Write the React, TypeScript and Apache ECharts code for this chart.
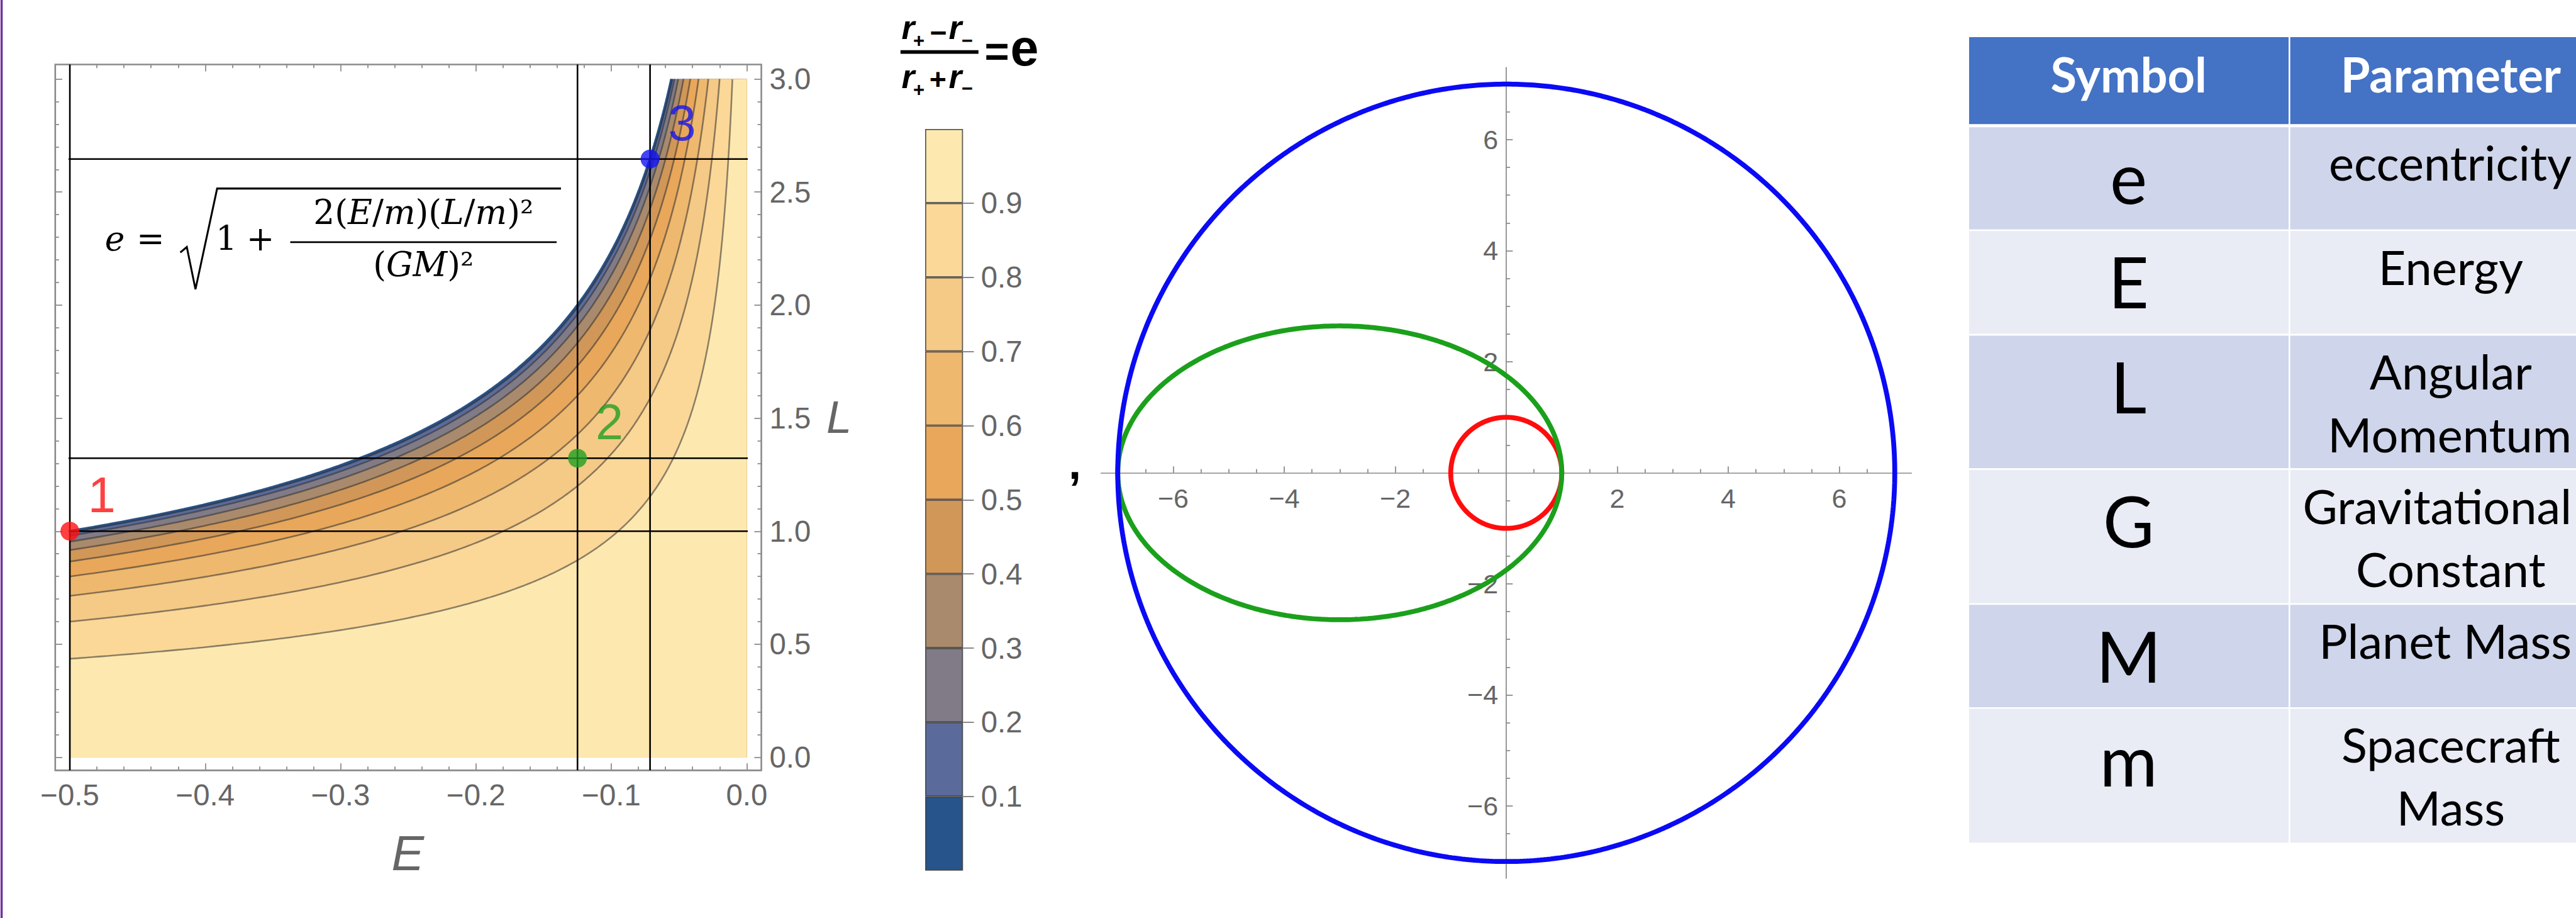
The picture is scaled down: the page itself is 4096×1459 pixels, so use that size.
import React, { useEffect, useRef } from 'react';
import * as echarts from 'echarts';

const S = 0.861;
const W = 4096;
const H = 1459;
const p = (v: number) => v * S;
const SANS = '"Liberation Sans", Arial, sans-serif';
const SERIF = '"DejaVu Serif", serif';
const LATO = 'Lato, "Open Sans", sans-serif';

// ---------- data: contour chart (E vs L) ----------
const energyTicks = [-0.5, -0.4, -0.3, -0.2, -0.1, 0.0];
const momentumTicks = [0, 0.5, 1.0, 1.5, 2.0, 2.5, 3.0];
const eccLevels = [0, 0.1, 0.2, 0.3, 0.4, 0.5, 0.6, 0.7, 0.8, 0.9];
const bandColors = ['#27548A', '#5A6B9B', '#807B86', '#A98A6D', '#D09758', '#E8A75A', '#EEB86F', '#F5C986', '#FBD898', '#FDE9B0'];
const colorbarTicks = [0.1, 0.2, 0.3, 0.4, 0.5, 0.6, 0.7, 0.8, 0.9];
const pointLabels = ['1', '2', '3'];
const pointE = [-0.5, -0.125, -0.0714];
const pointL = [1.0, 1.323, 2.646];
const pointColors = ['#FF1010', '#22A022', '#1414F0'];
const frameE = [-0.5108, 0.0108];
const frameL = [-0.0575, 3.064];

// ---------- data: orbits ----------
const orbitSemiMajor = [1, 4, 7];
const orbitEcc = [0, 0.75, 0];
const orbitColors = ['#FF0D0D', '#1BA01B', '#0A0AF5'];
const orbitRange = [-7.3, 7.3];
const orbitMajorTicks = [-6, -4, -2, 2, 4, 6];
const orbitMinorTicks = [-7, -6.5, -5.5, -5, -4.5, -3.5, -3, -2.5, -1.5, -1, -0.5, 0.5, 1, 1.5, 2.5, 3, 3.5, 4.5, 5, 5.5, 6.5, 7];

// ---------- data: table ----------
const tableHeader = ['Symbol', 'Parameter'];
const tableSymbols = ['e', 'E', 'L', 'G', 'M', 'm'];
const tableParams = [['eccentricity'], ['Energy'], ['Angular', 'Momentum'], ['Gravitational', 'Constant'], ['Planet Mass'], ['Spacecraft', 'Mass']];

// ---------- helpers ----------
const Lmax = momentumTicks[momentumTicks.length - 1];
const levelL = (e: number, E: number) => Math.sqrt((1 - e * e) / (-2 * E));
const crossE = (e: number) => -(1 - e * e) / (2 * Lmax * Lmax);
const E_SAMPLES: number[] = (() => {
  const a: number[] = [];
  const n = 600;
  for (let i = 0; i <= n; i++) a.push(energyTicks[0] * Math.pow(0.001, i / n));
  return a;
})();

function contourLine(e: number) {
  const ec = crossE(e);
  const pts = E_SAMPLES.filter((E) => E < ec).map((E) => [E, levelL(e, E)]);
  pts.push([ec, Lmax]);
  return pts;
}

function orbitPath(a: number, e: number) {
  const pts: number[][] = [];
  const n = 720;
  for (let i = 0; i <= n; i++) {
    const th = (i / n) * 2 * Math.PI;
    const r = (a * (1 - e * e)) / (1 + e * Math.cos(th));
    pts.push([r * Math.cos(th), r * Math.sin(th)]);
  }
  return pts;
}

const fmt1 = (v: number) => (Math.abs(v) < 1e-9 ? '0.0' : v.toFixed(1).replace('-', '\u2212'));
const fmtInt = (v: number) => String(Math.round(v)).replace('-', '\u2212');

function measureRef(text: string, size: number, family: string, weight = 'normal') {
  try {
    const ctx = document.createElement('canvas').getContext('2d');
    if (!ctx) return 0;
    ctx.font = `${weight} ${p(size)}px ${family}`;
    return ctx.measureText(text).width / S;
  } catch (e) {
    return 0;
  }
}

function label(x: number, baseline: number, text: string, size: number, o: any = {}) {
  const c = o.c ?? 0.3465;
  const style: any = {
    text,
    fontSize: p(size),
    fontFamily: o.family ?? SANS,
    fontStyle: o.italic ? 'italic' : 'normal',
    fontWeight: o.bold ? 'bold' : 'normal',
    fill: o.fill ?? '#000',
    textAlign: o.align ?? 'center',
    textVerticalAlign: 'middle',
  };
  if (o.rich) style.rich = o.rich;
  return { type: 'text', silent: true, z: o.z ?? 20, x: p(x), y: p(baseline - c * size), style };
}

function buildOption(): any {
  const tickStyle = { color: '#888', width: p(2) };
  const labelStyle = { fontSize: p(55), color: '#666', fontFamily: SANS };

  const series: any[] = [];

  // filled contour bands (each level paints from L=0 up to its curve)
  eccLevels.forEach((e, k) => {
    const pts = contourLine(e);
    pts.push([energyTicks[energyTicks.length - 1], Lmax]);
    series.push({
      type: 'line', xAxisIndex: 0, yAxisIndex: 0, data: pts, showSymbol: false, silent: true, z: 2,
      lineStyle: { width: 0, opacity: 0 },
      areaStyle: { color: bandColors[k], opacity: 1, origin: 'start' },
    });
  });
  // contour lines
  eccLevels.forEach((e, k) => {
    series.push({
      type: 'line', xAxisIndex: 0, yAxisIndex: 0, data: contourLine(e), showSymbol: false, silent: true, z: 3,
      lineStyle: k === 0 ? { color: '#2A5286', width: p(5) } : { color: 'rgba(45,45,45,0.55)', width: p(3) },
    });
  });
  // reference lines through the three points
  pointE.forEach((E, i) => {
    series.push({
      type: 'line', xAxisIndex: 0, yAxisIndex: 0, clip: false, showSymbol: false, silent: true, z: 4,
      data: [[E, frameL[0]], [E, frameL[1]]], lineStyle: { color: '#000', width: p(3) },
    });
    series.push({
      type: 'line', xAxisIndex: 0, yAxisIndex: 0, clip: false, showSymbol: false, silent: true, z: 4,
      data: [[frameE[0], pointL[i]], [frameE[1], pointL[i]]], lineStyle: { color: '#000', width: p(3) },
    });
  });
  // points
  pointE.forEach((E, i) => {
    series.push({
      type: 'scatter', xAxisIndex: 0, yAxisIndex: 0, clip: false, silent: true, z: 6,
      data: [[E, pointL[i]]], symbol: 'circle', symbolSize: p(35),
      itemStyle: { color: pointColors[i] },
      label: { show: true, formatter: pointLabels[i], position: 'inside', offset: [p(59), p(-67)], fontSize: p(92), color: pointColors[i], fontFamily: SANS },
    });
  });
  // colorbar bands
  eccLevels.forEach((e, k) => {
    const next = k + 1 < eccLevels.length ? eccLevels[k + 1] : 1;
    series.push({
      type: 'bar', xAxisIndex: 4, yAxisIndex: 4, stack: 'cb', barWidth: '100%', silent: true,
      data: [+(next - e).toFixed(3)],
      itemStyle: { color: bandColors[k], borderColor: 'rgba(60,60,60,0.85)', borderWidth: p(2) },
    });
  });
  // orbits (red, green, blue drawn in that order)
  orbitSemiMajor.forEach((a, i) => {
    series.push({
      type: 'line', xAxisIndex: 2, yAxisIndex: 2, data: orbitPath(a, orbitEcc[i]), showSymbol: false, silent: true, z: 3 + i,
      lineStyle: { color: orbitColors[i], width: p(9) },
    });
  });

  const oPx = 102.5;
  const oCx = 2781.7;
  const oCy = 872.8;
  const half = p(((orbitRange[1] - orbitRange[0]) / 2) * oPx);

  const xAxis: any[] = [
    {
      type: 'value', gridIndex: 0, position: 'bottom', offset: p(24), min: energyTicks[0], max: energyTicks[energyTicks.length - 1], interval: 0.1,
      axisLine: { show: false, onZero: false },
      axisTick: { show: true, inside: true, length: p(13), lineStyle: tickStyle },
      minorTick: { show: true, splitNumber: 5, length: p(7), lineStyle: tickStyle },
      axisLabel: { ...labelStyle, margin: p(18), formatter: fmt1 },
      splitLine: { show: false }, minorSplitLine: { show: false },
    },
    {
      type: 'value', gridIndex: 0, position: 'top', offset: p(27), min: energyTicks[0], max: energyTicks[energyTicks.length - 1], interval: 0.1,
      axisLine: { show: false, onZero: false },
      axisTick: { show: true, inside: true, length: p(13), lineStyle: tickStyle },
      minorTick: { show: true, splitNumber: 5, length: p(7), lineStyle: tickStyle },
      axisLabel: { show: false },
      splitLine: { show: false }, minorSplitLine: { show: false },
    },
    {
      type: 'value', gridIndex: 1, position: 'bottom', offset: -half, min: orbitRange[0], max: orbitRange[1],
      axisLine: { show: true, onZero: false, lineStyle: { color: '#888', width: p(2) } },
      axisTick: { show: true, inside: true, customValues: orbitMajorTicks, length: p(12), lineStyle: tickStyle },
      axisLabel: { fontSize: p(50), color: '#666', fontFamily: SANS, margin: p(22), customValues: orbitMajorTicks, formatter: fmtInt },
      splitLine: { show: false },
    },
    {
      type: 'value', gridIndex: 1, position: 'top', offset: -half, min: orbitRange[0], max: orbitRange[1],
      axisLine: { show: false, onZero: false },
      axisTick: { show: true, inside: false, customValues: orbitMinorTicks, length: p(7), lineStyle: tickStyle },
      axisLabel: { show: false },
      splitLine: { show: false },
    },
    { type: 'category', gridIndex: 2, data: ['e'], show: false, boundaryGap: true },
  ];

  const yAxis: any[] = [
    {
      type: 'value', gridIndex: 0, position: 'right', offset: p(27), min: momentumTicks[0], max: Lmax, interval: 0.5,
      axisLine: { show: false, onZero: false },
      axisTick: { show: true, inside: true, length: p(13), lineStyle: tickStyle },
      minorTick: { show: true, splitNumber: 5, length: p(7), lineStyle: tickStyle },
      axisLabel: { ...labelStyle, margin: p(15), formatter: fmt1 },
      splitLine: { show: false }, minorSplitLine: { show: false },
    },
    {
      type: 'value', gridIndex: 0, position: 'left', offset: p(27), min: momentumTicks[0], max: Lmax, interval: 0.5,
      axisLine: { show: false, onZero: false },
      axisTick: { show: true, inside: true, length: p(13), lineStyle: tickStyle },
      minorTick: { show: true, splitNumber: 5, length: p(7), lineStyle: tickStyle },
      axisLabel: { show: false },
      splitLine: { show: false }, minorSplitLine: { show: false },
    },
    {
      type: 'value', gridIndex: 1, position: 'left', offset: -half, min: orbitRange[0], max: orbitRange[1],
      axisLine: { show: true, onZero: false, lineStyle: { color: '#888', width: p(2) } },
      axisTick: { show: true, inside: true, customValues: orbitMajorTicks, length: p(12), lineStyle: tickStyle },
      axisLabel: { fontSize: p(50), color: '#666', fontFamily: SANS, margin: p(15), customValues: orbitMajorTicks, formatter: fmtInt },
      splitLine: { show: false },
    },
    {
      type: 'value', gridIndex: 1, position: 'right', offset: -half, min: orbitRange[0], max: orbitRange[1],
      axisLine: { show: false, onZero: false },
      axisTick: { show: true, inside: false, customValues: orbitMinorTicks, length: p(7), lineStyle: tickStyle },
      axisLabel: { show: false },
      splitLine: { show: false },
    },
    {
      type: 'value', gridIndex: 2, position: 'right', min: 0, max: 1,
      axisLine: { show: false },
      axisTick: { show: true, customValues: colorbarTicks, length: p(20), lineStyle: { color: '#777', width: p(2) } },
      axisLabel: { ...labelStyle, margin: p(33), customValues: colorbarTicks, formatter: fmt1 },
      splitLine: { show: false },
    },
  ];

  const grid = [
    { left: p(129), top: p(145.8), width: p(1250), height: p(1252.2), containLabel: false, outerBoundsMode: 'none' },
    { left: p(oCx + orbitRange[0] * oPx), top: p(oCy - orbitRange[1] * oPx), width: p((orbitRange[1] - orbitRange[0]) * oPx), height: p((orbitRange[1] - orbitRange[0]) * oPx), containLabel: false, outerBoundsMode: 'none' },
    { left: p(1708.5), top: p(238), width: p(70), height: p(1369), containLabel: false, outerBoundsMode: 'none' },
  ];

  const graphic: any[] = [];
  // purple slide edge
  graphic.push({ type: 'line', silent: true, shape: { x1: p(3), y1: 0, x2: p(3), y2: H }, style: { stroke: '#7030A0', lineWidth: p(4) } });
  // contour frame
  graphic.push({ type: 'rect', silent: true, z: 1, shape: { x: p(102), y: p(119), width: p(1304), height: p(1303) }, style: { fill: 'none', stroke: '#8a8a8a', lineWidth: p(3) } });
  // axis names
  graphic.push(label(753, 1606, 'E', 90, { italic: true, fill: '#666' }));
  graphic.push(label(1526, 799, 'L', 84, { italic: true, fill: '#666', align: 'left' }));
  // formula
  const fc = 0.346;
  const F = 62;
  graphic.push(label(212, 462, 'e', F, { family: SERIF, italic: true, c: fc }));
  graphic.push(label(278, 462, '=', F, { family: SERIF, c: fc }));
  graphic.push({ type: 'polyline', silent: true, z: 20, shape: { points: [[p(333), p(466)], [p(345), p(456)], [p(361), p(534)], [p(401), p(348)], [p(1036), p(348)]] }, style: { stroke: '#000', lineWidth: p(3.5), fill: 'none' } });
  graphic.push(label(418, 462, '1', F, { family: SERIF, c: fc }));
  graphic.push(label(481, 462, '+', F, { family: SERIF, c: fc }));
  graphic.push({ type: 'line', silent: true, z: 20, shape: { x1: p(536), y1: p(447), x2: p(1028), y2: p(447) }, style: { stroke: '#000', lineWidth: p(3) } });
  const rich = {
    n: { fontFamily: SERIF, fontSize: p(F), fill: '#000', lineHeight: p(F) },
    i: { fontFamily: SERIF, fontSize: p(F), fontStyle: 'italic', fill: '#000', lineHeight: p(F) },
  };
  graphic.push(label(782, 414, '{n|2(}{i|E}{n|/}{i|m}{n|)(}{i|L}{n|/}{i|m}{n|)²}', F, { family: SERIF, c: fc, rich }));
  graphic.push(label(782, 510, '{n|(}{i|GM}{n|)²}', F, { family: SERIF, c: fc, rich }));

  // colorbar title
  const rS = 62;
  const subS = 36;
  [1677, 1764].forEach((x) => {
    graphic.push(label(x, 72, 'r', rS, { italic: true, bold: true }));
    graphic.push(label(x, 163, 'r', rS, { italic: true, bold: true }));
  });
  graphic.push({ ...label(1697, 0, '+', subS, { bold: true, c: 0 }), y: p(75) });
  graphic.push({ ...label(1786, 0, '\u2212', subS, { bold: true, c: 0 }), y: p(75) });
  graphic.push({ ...label(1697, 0, '+', subS, { bold: true, c: 0 }), y: p(165) });
  graphic.push({ ...label(1786, 0, '\u2212', subS, { bold: true, c: 0 }), y: p(163) });
  graphic.push({ ...label(1733, 0, '\u2212', 54, { bold: true, c: 0 }), y: p(60) });
  graphic.push({ ...label(1732, 0, '+', 54, { bold: true, c: 0 }), y: p(146) });
  graphic.push({ type: 'line', silent: true, z: 20, shape: { x1: p(1663), y1: p(96), x2: p(1807), y2: p(96) }, style: { stroke: '#000', lineWidth: p(6.5) } });
  graphic.push({ ...label(1841, 0, '=', 78, { bold: true, c: 0 }), y: p(95) });
  graphic.push(label(1892, 121, 'e', 94, { bold: true }));

  // comma between figures
  graphic.push(label(1985, 884, ',', 84, { bold: true }));

  // table
  const colX = [3635, 4228, 4824];
  const rowY = [67, 232, 425, 618, 866, 1115, 1307, 1557];
  for (let r = 0; r < rowY.length - 1; r++) {
    for (let c = 0; c < 2; c++) {
      const fill = r === 0 ? '#4472C4' : r % 2 === 1 ? '#CFD5EA' : '#E9EBF5';
      graphic.push({
        type: 'rect', silent: true, z: 5,
        shape: { x: p(colX[c]), y: p(rowY[r]), width: p(colX[c + 1] - colX[c]), height: p(rowY[r + 1] - rowY[r]) },
        style: { fill, stroke: '#fff', lineWidth: p(3) },
      });
    }
  }
  graphic.push({ type: 'line', silent: true, z: 6, shape: { x1: p(colX[0]), y1: p(232), x2: p(colX[2]), y2: p(232) }, style: { stroke: '#fff', lineWidth: p(6) } });
  const colC = [3931, 4526];
  const lc = 0.387;
  const rightLimit = W / S - 8;
  tableHeader.forEach((h, c) => graphic.push(label(colC[c], 170, h, 88, { family: LATO, bold: true, fill: '#fff', c: lc })));
  tableSymbols.forEach((s, i) => {
    const top = rowY[i + 1];
    graphic.push(label(colC[0], top + 145, s, 130, { family: LATO, c: lc }));
    tableParams[i].forEach((line, j) => {
      const w = measureRef(line, 88, LATO);
      const cx = Math.min(colC[1], rightLimit - w / 2);
      graphic.push(label(cx, top + 101 + j * 116, line, 88, { family: LATO, c: lc }));
    });
  });

  return {
    animation: false,
    backgroundColor: '#fff',
    textStyle: { fontFamily: SANS },
    grid,
    xAxis,
    yAxis,
    series,
    graphic,
  };
}

export default function App() {
  const ref = useRef<HTMLDivElement>(null);
  useEffect(() => {
    document.body.style.margin = '0';
    const chart = echarts.init(ref.current as HTMLDivElement, null, { renderer: 'svg', width: W, height: H });
    chart.setOption(buildOption());
    return () => chart.dispose();
  }, []);
  return <div ref={ref} style={{ position: 'fixed', left: 0, top: 0, width: W, height: H, background: '#fff' }} />;
}
